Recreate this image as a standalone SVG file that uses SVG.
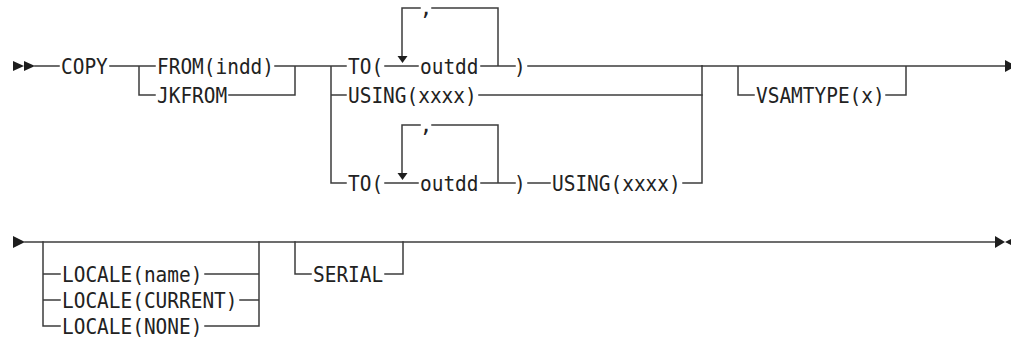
<svg xmlns="http://www.w3.org/2000/svg" width="1011" height="337" viewBox="0 0 1011 337">
<style>
.ln{stroke:#3c3c3c;stroke-width:1.5;fill:none;stroke-linecap:square}
.ah{fill:#1e1e1e;stroke:none}
.t{font-family:"DejaVu Sans Mono",monospace;font-size:21px;fill:#222}
</style>
<rect width="1011" height="337" fill="#fff"/>
<g id="connectors">
  <path class="ln" d="M35 66H59M110 66H155M139 66V95H155M275 66H346M229 95H295V66M331 66V183H346M331 95H346"/>
  <path class="ln" d="M385 66H418M498 66V8H432M420 8H402V57M481 66H515M528 66H702"/>
  <path class="ln" d="M479 95H702"/>
  <path class="ln" d="M385 183H418M498 183V125H432M420 125H402V174M481 183H515M528 183H550M683 183H702V66"/>
  <path class="ln" d="M702 66H1005M738 66V95H754M886 95H906V66"/>
  <path class="ln" d="M25 242H995"/>
  <path class="ln" d="M43 242V326H60M43 274H60M43 300H60M205 274H259M240 300H259M205 326H259M259 242V326"/>
  <path class="ln" d="M295 242V274H311M385 274H403V242"/>
  <polygon class="ah" points="397.5,56 407.5,56 402.5,63"/>
  <polygon class="ah" points="397.5,173 407.5,173 402.5,180"/>
</g>
<g id="n-start"><polygon class="ah" points="13,61 24,66 13,71"/><polygon class="ah" points="24,61 35,66 24,71"/></g>
<g id="n-copy"><text class="t" x="61" y="73.6" textLength="46.8" lengthAdjust="spacingAndGlyphs">COPY</text></g>
<g id="n-from"><text class="t" x="157" y="73.6" textLength="117" lengthAdjust="spacingAndGlyphs">FROM(indd)</text></g>
<g id="n-jkfrom"><text class="t" x="157" y="102.6" textLength="70.2" lengthAdjust="spacingAndGlyphs">JKFROM</text></g>
<g id="n-to1"><text class="t" x="348" y="73.6" textLength="35.1" lengthAdjust="spacingAndGlyphs">TO(</text><text class="t" x="426" y="15" text-anchor="middle">,</text><text class="t" x="420" y="73.6" textLength="58.5" lengthAdjust="spacingAndGlyphs">outdd</text><text class="t" x="514" y="73.6" textLength="11.7" lengthAdjust="spacingAndGlyphs">)</text></g>
<g id="n-using1"><text class="t" x="348" y="102.6" textLength="128.7" lengthAdjust="spacingAndGlyphs">USING(xxxx)</text></g>
<g id="n-to2"><text class="t" x="348" y="190.6" textLength="35.1" lengthAdjust="spacingAndGlyphs">TO(</text><text class="t" x="426" y="132" text-anchor="middle">,</text><text class="t" x="420" y="190.6" textLength="58.5" lengthAdjust="spacingAndGlyphs">outdd</text><text class="t" x="514" y="190.6" textLength="11.7" lengthAdjust="spacingAndGlyphs">)</text></g>
<g id="n-using2"><text class="t" x="552" y="190.6" textLength="128.7" lengthAdjust="spacingAndGlyphs">USING(xxxx)</text></g>
<g id="n-vsamtype"><text class="t" x="756" y="102.6" textLength="128.7" lengthAdjust="spacingAndGlyphs">VSAMTYPE(x)</text></g>
<g id="n-cont1"><polygon class="ah" points="1005,60 1016,66 1005,72"/></g>
<g id="n-cont2"><polygon class="ah" points="13,236 25,242 13,248"/></g>
<g id="n-locale-name"><text class="t" x="62" y="281.6" textLength="140.4" lengthAdjust="spacingAndGlyphs">LOCALE(name)</text></g>
<g id="n-locale-current"><text class="t" x="62" y="307.6" textLength="175.5" lengthAdjust="spacingAndGlyphs">LOCALE(CURRENT)</text></g>
<g id="n-locale-none"><text class="t" x="62" y="333.6" textLength="140.4" lengthAdjust="spacingAndGlyphs">LOCALE(NONE)</text></g>
<g id="n-serial"><text class="t" x="313" y="281.6" textLength="70.2" lengthAdjust="spacingAndGlyphs">SERIAL</text></g>
<g id="n-end"><polygon class="ah" points="995,236 1005,242 995,248"/><polygon class="ah" points="1015,237 1005,242 1015,247"/></g>
</svg>
